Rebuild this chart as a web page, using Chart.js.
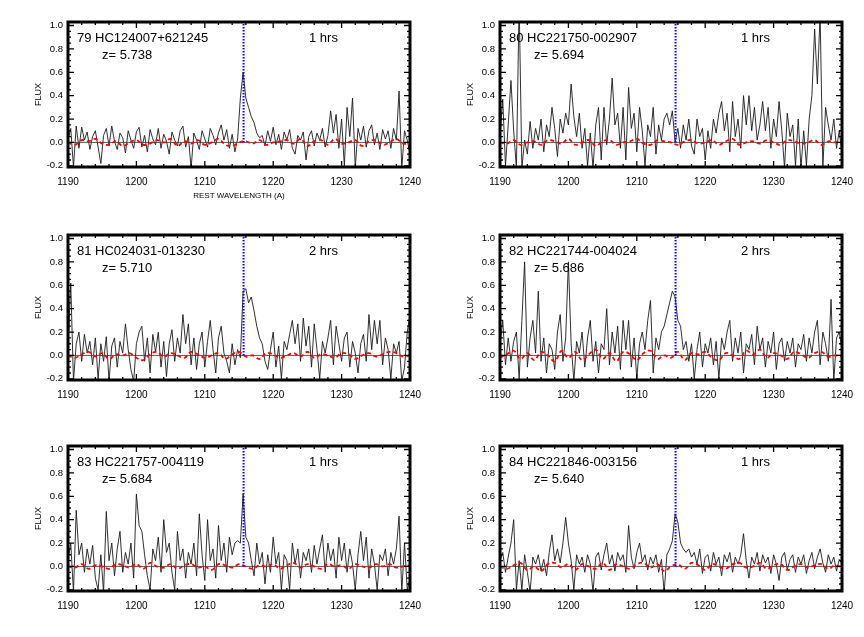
<!DOCTYPE html>
<html>
<head>
<meta charset="utf-8">
<script src="https://cdn.jsdelivr.net/npm/chart.js@4.4.1/dist/chart.umd.min.js"></script>
<style>
    body { margin: 0; background: #fff; }
    #wrap { position: relative; width: 864px; height: 637px; }
    #wrap canvas { position: absolute; }
</style>
</head>
<body>
<div id="wrap">
    <canvas id="p79" width="432" height="212" style="left:0;top:0"></canvas>
    <canvas id="p80" width="432" height="212" style="left:432px;top:0"></canvas>
    <canvas id="p81" width="432" height="212" style="left:0;top:213px"></canvas>
    <canvas id="p82" width="432" height="212" style="left:432px;top:213px"></canvas>
    <canvas id="p83" width="432" height="212" style="left:0;top:424px"></canvas>
    <canvas id="p84" width="432" height="212" style="left:432px;top:424px"></canvas>
</div>
<script>
/* ==========================================
   Spectra around Lya  (rest frame)
   ========================================== */

// wavelength grid of the spectra (A)
const wave = [
    1190.0,1190.4,1190.8,1191.2,1191.6,1192.0,1192.4,1192.8,1193.2,1193.6,
    1194.0,1194.4,1194.8,1195.2,1195.6,1196.0,1196.4,1196.8,1197.2,1197.6,
    1198.0,1198.4,1198.8,1199.2,1199.6,1200.0,1200.4,1200.8,1201.2,1201.6,
    1202.0,1202.4,1202.8,1203.2,1203.6,1204.0,1204.4,1204.8,1205.2,1205.6,
    1206.0,1206.4,1206.8,1207.2,1207.6,1208.0,1208.4,1208.8,1209.2,1209.6,
    1210.0,1210.4,1210.8,1211.2,1211.6,1212.0,1212.4,1212.8,1213.2,1213.6,
    1214.0,1214.4,1214.8,1215.2,1215.6,1216.0,1216.4,1216.8,1217.2,1217.6,
    1218.0,1218.4,1218.8,1219.2,1219.6,1220.0,1220.4,1220.8,1221.2,1221.6,
    1222.0,1222.4,1222.8,1223.2,1223.6,1224.0,1224.4,1224.8,1225.2,1225.6,
    1226.0,1226.4,1226.8,1227.2,1227.6,1228.0,1228.4,1228.8,1229.2,1229.6,
    1230.0,1230.4,1230.8,1231.2,1231.6,1232.0,1232.4,1232.8,1233.2,1233.6,
    1234.0,1234.4,1234.8,1235.2,1235.6,1236.0,1236.4,1236.8,1237.2,1237.6,
    1238.0,1238.4,1238.8,1239.2,1239.6,1240.0
];

// grid of the error curves (A)
const errWave = [
    1190,1191,1192,1193,1194,1195,1196,1197,1198,1199,
    1200,1201,1202,1203,1204,1205,1206,1207,1208,1209,
    1210,1211,1212,1213,1214,1215,1216,1217,1218,1219,
    1220,1221,1222,1223,1224,1225,1226,1227,1228,1229,
    1230,1231,1232,1233,1234,1235,1236,1237,1238,1239,
    1240
];

const flux79 = [
    0.02,0.12,-0.21,0.14,-0.05,0.13,0.02,0.09,-0.06,0.05,
    0.1,-0.04,-0.18,0.06,0.12,-0.03,0.14,0.01,-0.06,0.08,
    0.04,-0.09,0.1,0.02,-0.05,0.09,0.13,-0.04,0.06,-0.08,
    0.11,0.03,-0.02,0.12,-0.05,0.07,0.01,-0.1,0.09,0.02,
    -0.03,0.1,0.14,-0.04,0.05,-0.22,0.08,0.02,-0.06,0.1,
    0.03,-0.04,0.12,0.06,-0.02,0.08,0.15,0.02,0.11,-0.05,
    0.07,-0.08,0.03,0.38,0.6,0.38,0.3,0.22,0.17,0.08,
    0.04,0.06,-0.03,0.1,0.01,0.13,-0.02,0.07,-0.06,0.09,
    0.02,0.11,-0.05,-0.1,0.06,0.02,0.09,-0.15,0.05,0.1,
    -0.03,0.08,0.02,0.12,-0.04,0.06,0.27,0.08,0.24,-0.05,
    0.2,-0.2,0.3,0.05,0.38,-0.22,0.12,0.02,0.14,-0.04,
    0.1,0.15,-0.02,0.08,-0.06,0.11,0.03,0.1,-0.05,0.12,
    0.02,0.44,-0.22,0.1,0.02,-0.1
];

const flux80 = [
    0.05,0.37,-0.2,0.15,0.53,0.1,-0.22,1.2,-0.22,0.02,
    -0.1,0.18,-0.05,0.12,0.02,0.2,-0.08,0.15,0.05,0.3,
    0.12,-0.12,0.2,0.08,0.25,0.15,0.5,0.22,0.05,0.25,
    -0.05,0.12,-0.2,0.08,-0.22,0.15,0.3,-0.15,0.3,-0.02,
    0.2,0.55,0.15,0.25,-0.05,0.3,-0.15,0.47,0.12,0.25,
    -0.08,0.3,0.1,-0.2,0.15,0.05,0.3,-0.1,0.15,0.02,
    0.2,0.25,0.15,0.27,0.0,0.12,-0.05,0.15,0.02,0.2,
    -0.03,-0.1,0.2,0.05,0.12,-0.15,0.1,-0.05,0.2,0.08,
    0.25,0.35,0.1,0.25,-0.08,0.35,0.05,0.2,-0.05,0.4,
    0.15,0.4,0.1,0.3,0.02,0.15,0.35,0.1,0.3,-0.05,
    0.2,0.05,0.35,0.1,-0.22,0.25,0.05,0.15,-0.2,0.2,
    -0.22,0.1,-0.2,0.2,0.4,0.97,0.5,1.1,-0.22,0.3,
    0.15,0.02,0.2,-0.05,0.1,-0.1
];

const flux81 = [
    0.05,0.62,-0.22,0.1,0.2,-0.05,0.18,0.02,0.12,-0.08,
    0.15,-0.2,0.1,-0.05,0.16,-0.22,0.08,0.15,-0.1,0.12,
    0.02,0.27,0.05,-0.12,-0.22,0.1,0.2,0.25,-0.05,0.15,
    -0.15,0.18,0.03,0.2,-0.1,0.12,-0.18,0.1,0.22,-0.05,
    0.15,0.02,0.35,0.1,0.27,-0.08,0.15,-0.12,0.1,0.2,
    -0.1,0.12,0.3,0.05,-0.15,0.15,0.25,0.02,-0.05,-0.15,
    0.1,-0.08,0.05,-0.02,0.55,0.57,0.45,0.5,0.38,0.25,
    0.15,0.1,-0.05,-0.12,0.05,0.2,-0.1,0.08,-0.2,0.12,
    0.05,0.18,0.3,0.1,0.27,-0.05,0.32,0.08,0.25,-0.1,
    0.27,0.05,-0.2,0.12,0.02,0.15,0.3,-0.08,0.25,0.1,
    -0.05,0.15,0.2,-0.1,0.12,0.02,-0.15,0.1,0.18,-0.05,
    0.35,0.05,0.3,0.1,0.3,-0.08,0.15,0.05,-0.2,0.1,
    0.02,0.12,-0.22,-0.1,0.2,0.35
];

const flux82 = [
    0.1,0.3,-0.08,0.15,-0.05,0.12,0.2,-0.2,0.3,0.8,
    -0.1,0.15,0.3,0.02,0.55,-0.05,0.15,-0.15,0.1,0.05,
    -0.12,0.2,0.35,-0.05,0.15,0.8,0.1,-0.22,0.12,0.02,
    0.2,-0.1,0.15,0.3,-0.05,0.12,-0.15,0.1,0.05,0.4,
    -0.08,0.2,0.02,0.25,-0.12,0.3,0.05,0.3,-0.1,0.15,
    -0.2,0.1,0.2,0.05,0.3,0.47,-0.15,0.15,0.05,0.2,
    0.25,0.35,0.45,0.55,0.5,0.3,0.25,0.05,0.12,-0.05,
    0.1,-0.2,0.05,0.2,-0.1,0.1,0.02,0.15,-0.08,0.12,
    -0.2,0.15,0.05,0.2,0.3,-0.05,0.15,0.02,0.2,-0.15,
    0.1,0.05,0.18,-0.08,0.25,0.05,0.15,-0.1,0.12,0.02,
    0.2,-0.12,0.1,0.15,-0.05,0.12,0.02,0.15,-0.1,0.1,
    0.05,0.18,-0.05,0.15,0.02,0.2,0.3,-0.08,0.2,0.1,
    -0.05,0.48,-0.22,0.15,0.2,0.05
];

const flux83 = [
    0.05,0.2,-0.22,0.48,0.1,0.2,-0.05,0.15,0.02,0.18,
    -0.1,-0.2,0.1,-0.22,0.47,0.05,0.2,-0.08,0.15,0.3,
    -0.05,0.12,0.02,0.2,-0.1,0.62,0.35,0.3,0.1,-0.08,
    -0.2,0.15,0.05,0.25,-0.05,0.4,0.12,0.2,-0.05,-0.2,
    0.3,0.05,0.15,-0.1,0.12,0.02,0.2,-0.08,0.45,0.1,
    -0.12,0.4,0.05,0.15,-0.1,0.35,0.05,0.2,-0.05,0.25,
    0.1,0.2,0.22,0.2,0.62,0.25,0.2,0.05,-0.08,0.2,
    0.02,0.12,-0.15,0.1,-0.05,0.25,0.02,0.12,-0.2,0.1,
    0.05,-0.2,0.2,0.02,0.15,-0.1,0.12,0.05,0.15,-0.05,
    0.18,0.02,0.15,0.27,-0.05,0.2,0.05,0.15,-0.1,0.25,
    0.05,0.2,-0.05,0.15,0.02,-0.2,0.1,0.3,0.05,0.25,
    -0.1,0.15,0.02,-0.2,0.1,0.05,0.15,-0.08,0.12,0.02,
    0.15,0.43,-0.22,0.2,-0.2,-0.1
];

const flux84 = [
    0.05,0.12,-0.05,0.08,0.2,0.4,-0.2,0.05,-0.2,0.1,
    -0.05,-0.22,0.08,0.02,0.1,-0.04,0.06,-0.08,0.12,0.27,
    0.05,0.15,0.03,0.2,0.42,0.2,0.05,-0.2,0.1,0.02,
    0.08,-0.05,0.1,0.02,-0.22,0.08,0.12,-0.03,0.1,0.2,
    0.02,0.1,-0.04,0.12,0.05,0.1,-0.05,0.35,0.08,-0.02,
    0.12,0.2,0.04,0.1,-0.03,0.08,0.02,0.1,-0.05,0.06,
    -0.22,0.1,0.15,0.22,0.45,0.38,0.2,0.15,0.12,0.15,
    0.08,0.12,0.02,0.15,-0.06,0.08,0.1,-0.04,0.12,0.02,
    0.08,-0.08,0.1,0.04,0.12,-0.05,0.08,0.02,0.1,0.28,
    0.05,-0.1,0.08,0.02,0.12,-0.04,0.1,0.03,0.08,-0.06,
    0.1,0.02,-0.12,0.08,0.12,-0.03,0.06,0.1,-0.05,0.08,
    0.02,0.1,-0.06,0.05,0.12,-0.02,0.08,0.15,0.03,-0.05,
    0.1,0.02,0.08,-0.04,0.06,0.02
];

// error curves (red, dashed)
const err79 = [
    0.0,-0.02,0.02,0.01,0.03,-0.01,-0.02,0.01,-0.03,0.0,
    0.02,-0.02,-0.01,0.02,0.0,0.03,-0.03,0.01,-0.01,0.02,
    -0.02,0.0,0.03,-0.02,-0.03,0.0,0.01,-0.01,0.02,-0.02,
    0.0,0.01,0.02,-0.01,0.03,-0.03,0.01,0.02,-0.02,0.03,
    -0.01,0.0,0.02,-0.03,0.01,0.02,-0.02,0.0,0.03,-0.01,
    0.0
];
const err80 = [
    0.0,-0.01,0.02,-0.02,0.0,0.01,-0.02,0.02,0.01,-0.01,
    0.03,-0.02,0.0,0.02,-0.03,0.01,0.02,-0.02,0.0,0.01,
    0.03,-0.01,-0.02,0.02,0.01,0.0,-0.02,0.01,0.02,-0.01,
    0.0,0.02,-0.02,0.01,0.03,-0.02,0.0,0.01,-0.01,0.02,
    0.0,-0.02,0.02,0.01,-0.01,0.0,0.02,-0.02,0.01,0.0,
    -0.01
];
const err81 = [
    0.0,-0.02,0.01,0.03,-0.01,0.02,-0.03,0.01,0.0,0.02,
    -0.02,-0.04,0.01,0.03,-0.01,0.02,0.0,-0.02,0.03,0.01,
    -0.02,0.0,0.02,-0.03,0.01,0.03,-0.01,0.0,-0.03,0.02,
    0.01,-0.02,0.0,0.02,-0.01,0.03,-0.02,0.01,0.0,-0.02,
    0.02,0.01,-0.03,0.0,0.02,-0.01,0.01,0.03,0.02,-0.01,
    0.0
];
const err82 = [
    -0.02,0.01,0.04,-0.03,0.02,-0.04,0.03,0.0,-0.05,0.04,
    -0.02,0.03,-0.04,0.01,0.05,-0.03,0.02,-0.05,0.03,0.01,
    -0.04,0.02,0.04,-0.03,0.0,-0.02,0.03,-0.04,0.02,0.01,
    0.03,-0.02,-0.04,0.02,0.0,-0.03,0.04,0.01,0.05,-0.02,
    0.02,0.0,-0.03,0.03,0.01,-0.02,0.02,0.03,-0.01,0.0,
    -0.01
];
const err83 = [
    0.0,-0.01,0.02,-0.02,0.01,0.0,-0.02,0.02,0.01,-0.01,
    0.02,-0.02,0.03,0.0,-0.01,0.02,-0.02,0.01,0.02,-0.01,
    0.0,-0.03,0.02,0.01,-0.01,0.02,0.0,-0.02,0.01,0.0,
    0.02,-0.02,0.01,0.03,-0.01,0.02,0.0,-0.02,0.02,0.0,
    0.01,-0.02,0.02,0.0,-0.01,0.02,0.0,0.02,-0.01,0.0,
    0.01
];
const err84 = [
    0.0,-0.02,0.01,0.03,-0.03,0.0,-0.04,0.02,0.03,-0.01,
    0.02,-0.03,0.02,0.0,-0.02,0.03,-0.03,0.02,0.0,-0.02,
    0.02,0.03,-0.01,0.02,-0.04,0.0,0.02,-0.02,0.03,0.01,
    -0.03,0.02,0.0,-0.02,0.02,0.03,-0.01,0.0,0.03,-0.02,
    0.01,0.02,-0.03,0.0,0.02,-0.01,0.01,0.02,-0.02,0.01,
    -0.01
];

// panel labels
const objNames = ["79 HC124007+621245", "80 HC221750-002907", "81 HC024031-013230",
                  "82 HC221744-004024", "83 HC221757-004119", "84 HC221846-003156"];
const redshifts = ["5.738", "5.694", "5.710", "5.686", "5.684", "5.640"];
const exposure = [1, 1, 2, 2, 1, 1];

// axis ticks
const xTicks = [1190, 1200, 1210, 1220, 1230, 1240];
const yTicks = [-0.2, 0.0, 0.2, 0.4, 0.6, 0.8, 1.0];
const lyaWave = 1215.67;

const FONT = "'Liberation Sans', Arial, Helvetica, sans-serif";
Chart.defaults.font.family = FONT;
Chart.defaults.color = "#000";


/* ==========================================
   IDL style frame + panel text
========================================== */

const idlFrame = {
    id: "idlFrame",
    afterDatasetsDraw(chart, args, opts) {
        const ctx = chart.ctx;
        const a = chart.chartArea;
        const x = chart.scales.x;
        const y = chart.scales.y;

        ctx.save();
        ctx.strokeStyle = "#000";
        ctx.lineWidth = 1.3;
        ctx.beginPath();

        // x ticks, top and bottom
        for (let w = 1190; w <= 1240; w += 2) {
            const px = x.getPixelForValue(w);
            const len = (w % 10 === 0) ? 6 : 3;
            ctx.moveTo(px, a.bottom);
            ctx.lineTo(px, a.bottom - len);
            ctx.moveTo(px, a.top);
            ctx.lineTo(px, a.top + len);
        }

        // y ticks, left and right
        for (let k = -4; k <= 20; k++) {
            const py = y.getPixelForValue(k * 0.05);
            const len = (k % 4 === 0) ? 6 : 3;
            ctx.moveTo(a.left, py);
            ctx.lineTo(a.left + len, py);
            ctx.moveTo(a.right, py);
            ctx.lineTo(a.right - len, py);
        }
        ctx.stroke();

        ctx.lineWidth = 3;
        ctx.strokeRect(a.left, a.top, a.right - a.left, a.bottom - a.top);

        ctx.fillStyle = "#000";
        ctx.font = "13px " + FONT;
        ctx.textBaseline = "middle";
        ctx.textAlign = "left";
        ctx.fillText(opts.name, a.left + 9, a.top + 16);
        ctx.fillText("z= " + opts.z, a.left + 34, a.top + 33);
        ctx.fillText(opts.hrs + " hrs", a.left + 241, a.top + 16);
        ctx.restore();
    }
};


/* ==========================================
   One panel
========================================== */

function makePanel(canvasId, flux, err, n, showXTitle) {

    const ctx = document.getElementById(canvasId);
    if (!ctx) return null;

    const specPts = flux.map((v, i) => ({ x: wave[i], y: v }));
    const errPts = err.map((v, i) => ({ x: errWave[i], y: v }));

    return new Chart(ctx, {

        type: "line",

        data: {
            datasets: [
                {
                    // Lya position
                    data: [{ x: lyaWave, y: 0 }, { x: lyaWave, y: 1.03 }],
                    borderColor: "#0000ff",
                    borderWidth: 2,
                    borderDash: [1.5, 1.5]
                },
                {
                    data: errPts,
                    borderColor: "#ff0000",
                    borderWidth: 1.8,
                    borderDash: [4, 3],
                    tension: 0.4
                },
                {
                    data: [{ x: 1190, y: 0 }, { x: 1240, y: 0 }],
                    borderColor: "#333",
                    borderWidth: 0.8
                },
                {
                    data: specPts,
                    borderColor: "#1a1a1a",
                    borderWidth: 0.9
                }
            ]
        },

        options: {
            responsive: false,
            animation: false,
            events: [],
            layout: {
                padding: { top: 22, right: 22, left: 0, bottom: 0 }
            },
            elements: {
                point: { radius: 0 }
            },
            plugins: {
                legend: { display: false },
                tooltip: { enabled: false },
                idlFrame: {
                    name: objNames[n],
                    z: redshifts[n],
                    hrs: exposure[n]
                }
            },
            scales: {
                x: {
                    type: "linear",
                    min: 1190,
                    max: 1240,
                    afterBuildTicks: s => { s.ticks = xTicks.map(v => ({ value: v })); },
                    afterFit: s => { s.height = 45; },
                    grid: { display: false, drawTicks: false },
                    border: { display: false },
                    ticks: {
                        padding: 9,
                        font: { size: 10 },
                        maxRotation: 0,
                        callback: v => String(v)
                    },
                    title: {
                        display: showXTitle,
                        text: "REST WAVELENGTH (A)",
                        font: { size: 8 },
                        padding: { top: 0, bottom: 11 }
                    }
                },
                y: {
                    type: "linear",
                    min: -0.21,
                    max: 1.03,
                    afterBuildTicks: s => { s.ticks = yTicks.map(v => ({ value: v })); },
                    afterFit: s => { s.width = 68; },
                    grid: { display: false, drawTicks: false },
                    border: { display: false },
                    ticks: {
                        padding: 5,
                        font: { size: 9.5 },
                        callback: v => v.toFixed(1)
                    },
                    title: {
                        display: true,
                        text: "FLUX",
                        font: { size: 9 },
                        padding: { top: 33, bottom: 0 }
                    }
                }
            }
        },

        plugins: [idlFrame]

    });

}

document.addEventListener("DOMContentLoaded", function () {
    makePanel("p79", flux79, err79, 0, true);
    makePanel("p80", flux80, err80, 1, false);
    makePanel("p81", flux81, err81, 2, false);
    makePanel("p82", flux82, err82, 3, false);
    makePanel("p83", flux83, err83, 4, false);
    makePanel("p84", flux84, err84, 5, false);
});
</script>
</body>
</html>
